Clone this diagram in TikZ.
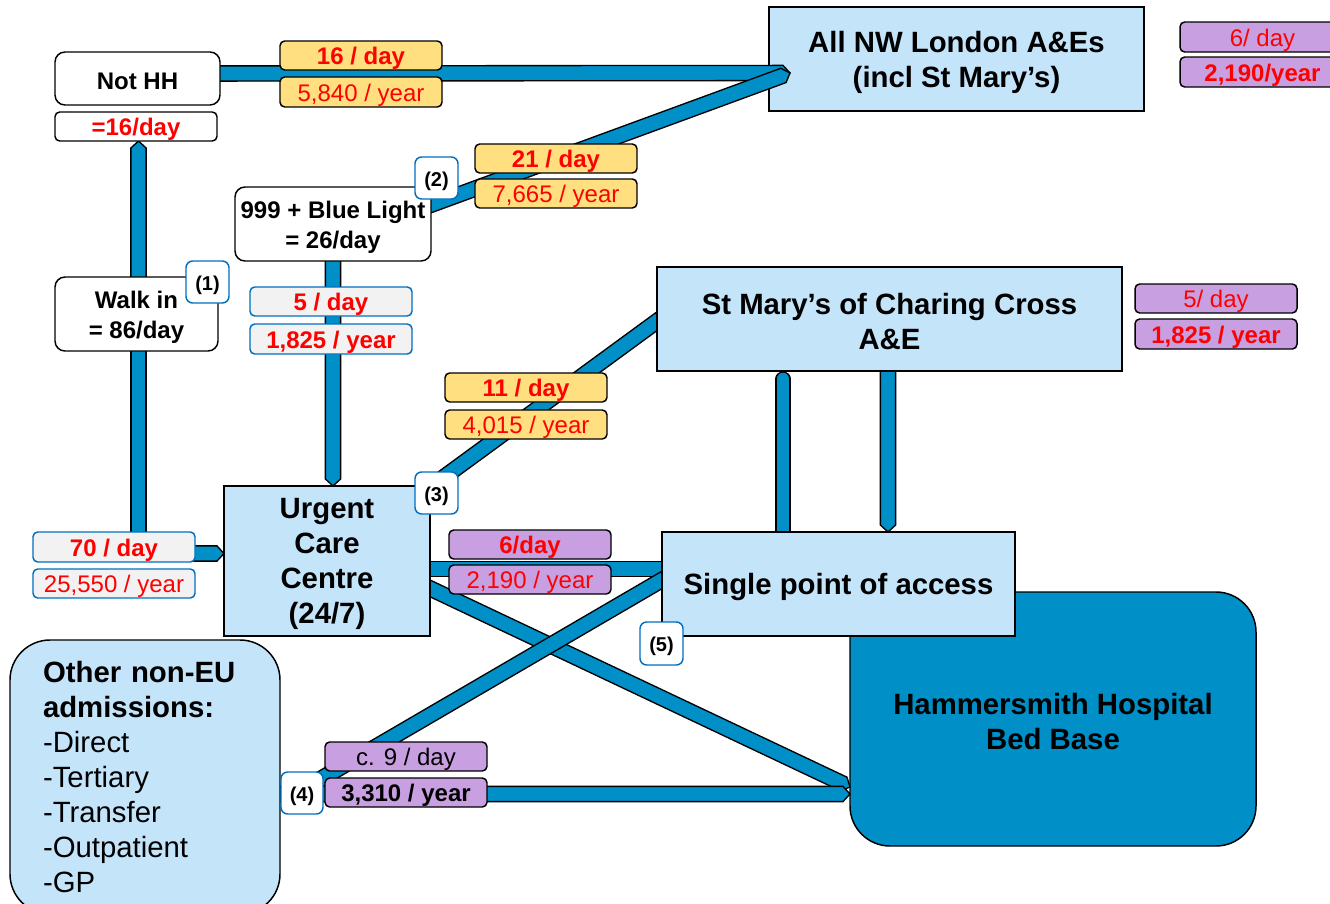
\documentclass[tikz,border=0pt]{standalone}
\usepackage{fontspec}
\setmainfont{Liberation Sans}
\usetikzlibrary{calc}
\pgfdeclarelayer{back}
\pgfdeclarelayer{mid}
\pgfsetlayers{back,mid,main}
\definecolor{barblue}{RGB}{0,144,199}
\definecolor{boxblue}{RGB}{196,228,250}
\definecolor{lblyellow}{RGB}{255,223,127}
\definecolor{lblpurple}{RGB}{200,160,225}
\definecolor{lblgrey}{RGB}{242,242,242}
\definecolor{numblue}{RGB}{0,112,192}
\definecolor{txtred}{RGB}{255,0,0}
\newcommand\barhw{5.7pt}
\newcommand\tiplen{5.25pt}
% bar from #1 to #2, tip lengths #3 (start) and #4 (end)
\newcommand\flowbar[4]{%
  \path (#1) coordinate (fbS) (#2) coordinate (fbE);
  \coordinate (fbA) at ($(fbS)!#3!(fbE)$);
  \coordinate (fbB) at ($(fbE)!#4!(fbS)$);
  \filldraw[flowbarstyle] ($(fbA)!\barhw!90:(fbB)$) -- ($(fbB)!\barhw!-90:(fbA)$) -- (fbE)
     -- ($(fbB)!\barhw!90:(fbA)$) -- ($(fbA)!\barhw!-90:(fbB)$) -- (fbS) -- cycle;
}
% box node: name, style, x1, y1, x2, y2, text (text set slightly low, as in the reference)
\newcommand\boxnode[7]{%
  \node[#2, minimum width={(#5-#3)*0.75pt}, minimum height={(#6-#4)*0.75pt}] (#1)
    at ({(#3+#5)/2},{(#4+#6)/2}) {};
  \node[#2, draw=none, fill=none, minimum width=0pt, minimum height=0pt, yshift=-2.2pt]
    at (#1.center) {#7};
}
\tikzset{
  basebox/.style={inner sep=0pt, outer sep=0pt, align=center, line width=1.1pt, draw=black},
  whitebox/.style={basebox, fill=white, rounded corners=7.5pt, font=\fontsize{18}{22.5}\selectfont\bfseries},
  eqbox/.style={basebox, fill=white, rounded corners=3.5pt, text=txtred, font=\fontsize{18}{22.5}\selectfont\bfseries},
  bluebox/.style={basebox, fill=boxblue, font=\fontsize{22}{26.25}\selectfont\bfseries},
  hhbox/.style={basebox, fill=barblue, rounded corners=30pt, font=\fontsize{22}{26.25}\selectfont\bfseries},
  otherbox/.style={basebox, fill=boxblue, rounded corners=30pt, align=left, inner xsep=24.75pt,
     text width=153pt, font=\fontsize{22}{26.25}\selectfont},
  lbl/.style={basebox, rounded corners=3.5pt, font=\fontsize{18}{20}\selectfont, text=txtred},
  ylbl/.style={lbl, fill=lblyellow},
  plbl/.style={lbl, fill=lblpurple},
  glbl/.style={lbl, fill=lblgrey, draw=numblue},
  bfl/.style={font=\fontsize{18}{20}\selectfont\bfseries},
  numbox/.style={basebox, fill=white, draw=numblue, rounded corners=5pt, font=\fontsize{15}{18}\selectfont\bfseries},
  flowbarstyle/.style={fill=barblue, draw=black, line width=1pt, line join=miter},
  roundbar/.style={draw=black, line width=1pt, double=barblue, double distance=9.4pt, line cap=round},
}
\begin{document}
\begin{tikzpicture}[x=0.75pt, y=-0.75pt]
\useasboundingbox (0,0) rectangle (1330,903);
\begin{pgfonlayer}{back}
\fill[white] (0,0) rectangle (1330,903);
\boxnode{allnw}{bluebox}{769}{7}{1144}{111}{All NW London A\&Es\\(incl St Mary’s)}
\boxnode{hh}{hhbox}{850}{592}{1256}{846}{Hammersmith Hospital\\Bed Base}
\end{pgfonlayer}
\clip (0,0) rectangle (1330,903);

% boxes
\boxnode{nothh}{whitebox}{55}{52}{220}{105}{Not HH}
\boxnode{eq16}{eqbox}{55}{112}{217}{141}{=16/day}
\boxnode{walkin}{whitebox}{55}{277}{218}{351}{Walk in\\= 86/day}
\boxnode{blue}{whitebox}{235}{187}{431}{261}{999 + Blue Light\\= 26/day}
\boxnode{ucc}{bluebox}{224}{486}{430}{636}{Urgent\\Care\\Centre\\(24/7)}
\boxnode{stm}{bluebox}{657}{267}{1122}{371}{St Mary’s of Charing Cross\\A\&E}
\boxnode{spa}{bluebox}{662}{532}{1015}{636}{Single point of access}
\node[otherbox, minimum width={270*0.75pt}, minimum height={274*0.75pt}] (other) at (145,777)
  {\textbf{Other non-EU}\\\textbf{admissions:}\\-Direct\\-Tertiary\\-Transfer\\-Outpatient\\-GP};

% bar end points
\coordinate (nwtip) at ($(allnw.west)+(21,14)$);
\coordinate (wtop) at ($(walkin.north)+(2,6)$);
\coordinate (wbot) at ($(walkin.south)+(2,-6)$);
\coordinate (wcorner) at ($(ucc.west)+(-85.5,0)$);
\coordinate (welbow) at ($(ucc.west)+(-93,-7.5)$);
\coordinate (srtop) at ($(stm.south)+(-1.5,-5)$);

% bars, on the layer between the back boxes and the rest
\begin{pgfonlayer}{mid}
\flowbar{$(nothh.east)+(-3,-5)$}{nwtip}{0pt}{\tiplen}
\flowbar{$(blue.east)+(-6,-17)$}{nwtip}{0pt}{\tiplen}
\flowbar{$(blue.south)+(0,-6)$}{blue.south |- ucc.north}{0pt}{\tiplen}
\flowbar{wtop}{wtop |- eq16.south}{0pt}{\tiplen}
\flowbar{wbot}{wbot |- wcorner}{0pt}{0pt}
\flowbar{welbow}{$(ucc.west)+(0,-7.5)$}{0pt}{\tiplen}
\flowbar{$(ucc.north east)+(-5,5)$}{$(stm.west)+(3,0)$}{0pt}{0pt}
\flowbar{$(ucc.east)+(-5,8)$}{$(spa.west)+(5,-15)$}{0pt}{0pt}
\flowbar{$(ucc.east)+(-5,25)$}{$(hh.west)+(0,68)$}{0pt}{\tiplen}
\flowbar{$(spa.west)+(5,-7)$}{$(other.east)+(32,7)$}{0pt}{0pt}
\flowbar{$(other.east)+(-5,17)$}{$(hh.west)+(0,75)$}{0pt}{\tiplen}
\draw[roundbar] ($(spa.north)+(-55.5,8)$) -- ($(stm.south)+(-106.5,8)$);
\flowbar{srtop}{srtop |- spa.north}{0pt}{\tiplen}
\end{pgfonlayer}

% labels
\boxnode{l16d}{ylbl,bfl}{280}{41}{442}{70}{16 / day}
\boxnode{l16y}{ylbl}{280}{77}{442}{107}{5,840 / year}
\boxnode{l21d}{ylbl,bfl}{475}{144}{637}{173}{21 / day}
\boxnode{l21y}{ylbl}{475}{179}{637}{208}{7,665 / year}
\boxnode{l5d}{glbl,bfl}{250}{287}{412}{316}{5 / day}
\boxnode{l5y}{glbl,bfl}{250}{324}{412}{354}{1,825 / year}
\boxnode{l11d}{ylbl,bfl}{445}{373}{607}{402}{11 / day}
\boxnode{l11y}{ylbl}{445}{410}{607}{439}{4,015 / year}
\boxnode{l70d}{glbl,bfl}{33}{532}{195}{562}{70 / day}
\boxnode{l70y}{glbl}{33}{569}{195}{598}{25,550 / year}
\boxnode{l6d}{plbl,bfl}{449}{530}{611}{559}{6/day}
\boxnode{l6y}{plbl}{449}{565}{611}{594}{2,190 / year}
\boxnode{l9d}{plbl,text=black}{325}{742}{487}{771}{c. 9 / day}
\boxnode{l9y}{plbl,bfl,text=black}{325}{778}{487}{807}{3,310 / year}
\boxnode{la6d}{plbl}{1180}{22}{1345}{52}{6/ day}
\boxnode{la6y}{plbl,bfl}{1180}{57}{1345}{87}{2,190/year}
\boxnode{ls5d}{plbl}{1135}{284}{1297}{313}{5/ day}
\boxnode{ls5y}{plbl,bfl}{1135}{319}{1297}{349}{1,825 / year}

% numbered markers
\boxnode{n1}{numbox}{186}{261}{229}{303}{(1)}
\boxnode{n2}{numbox}{415}{157}{458}{199}{(2)}
\boxnode{n3}{numbox}{415}{472}{458}{514}{(3)}
\boxnode{n4}{numbox}{281}{772}{323}{814}{(4)}
\boxnode{n5}{numbox}{640}{622}{683}{665}{(5)}
\end{tikzpicture}
\end{document}
